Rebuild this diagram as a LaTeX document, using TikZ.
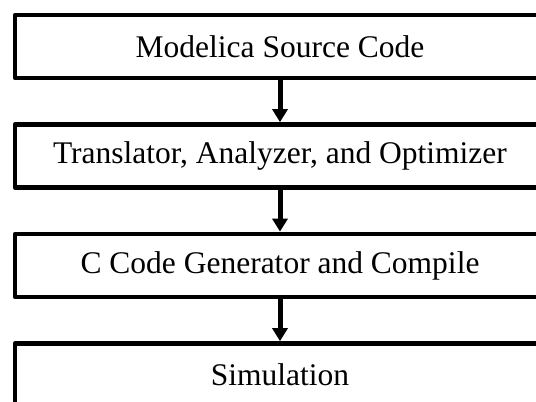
\documentclass[tikz,border=0pt]{standalone}
\usepackage{fontspec}
\setmainfont{Liberation Serif}
\usetikzlibrary{arrows.meta}
\tikzset{
  stagebox/.style={draw=black, line width=4.7pt, line join=round, fill=white,
    minimum width=530pt, minimum height=63pt, inner sep=0pt,
    font=\fontsize{31.5}{38}\selectfont},
  flowarrow/.style={line width=5pt, -{Triangle[width=15pt,length=13pt]}}
}
\begin{document}
\begin{tikzpicture}[x=1pt,y=1pt]
\useasboundingbox (0,0) rectangle (536,-402);
\clip (0,0) rectangle (536,-402);
\node[stagebox] (b1) at (280,-46.5) {Modelica Source Code};
\node[stagebox] (b2) at (280,-156) {Translator, Analyzer, and Optimizer};
\node[stagebox] (b3) at (280,-265.5) {C Code Generator and Compile};
\node[stagebox] (b4) at (280,-375) {Simulation};
\draw[flowarrow] (b1.south) -- (b2.north);
\draw[flowarrow] (b2.south) -- (b3.north);
\draw[flowarrow] (b3.south) -- (b4.north);
\end{tikzpicture}
\end{document}
